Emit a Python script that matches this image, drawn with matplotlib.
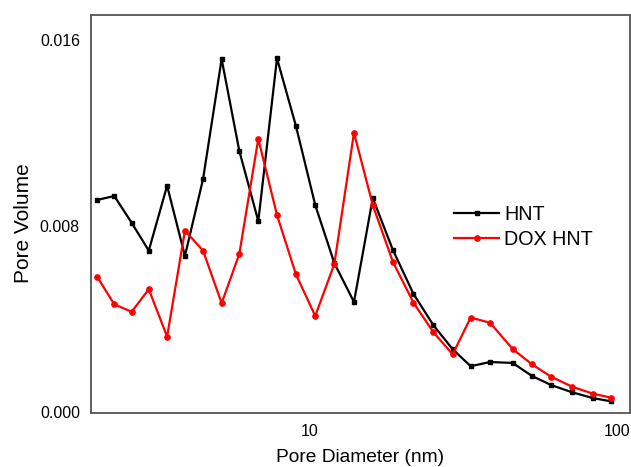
import matplotlib
matplotlib.use("Agg")
import matplotlib.pyplot as plt
from matplotlib.ticker import FixedLocator, NullLocator

plt.rcParams['font.family'] = ['Liberation Sans', 'DejaVu Sans']

diameter = [2.03, 2.31, 2.63, 2.99, 3.43, 3.92, 4.49, 5.16, 5.89, 6.79, 7.81, 9.0,
            10.4, 12.0, 13.9, 16.0, 18.6, 21.7, 25.2, 29.1, 33.3, 38.5, 45.6, 52.7,
            60.8, 71.1, 83.1, 95.0]
hnt = [0.00912, 0.00929, 0.00814, 0.00694, 0.00973, 0.00671, 0.01002, 0.01518,
       0.01123, 0.00821, 0.01521, 0.01230, 0.00890, 0.00640, 0.00473, 0.00920,
       0.00697, 0.00508, 0.00373, 0.00270, 0.00197, 0.00215, 0.00211, 0.00155,
       0.00116, 0.00085, 0.00060, 0.00046]
dox_hnt = [0.00582, 0.00463, 0.00431, 0.00528, 0.00324, 0.00780, 0.00694, 0.00468,
           0.00680, 0.01175, 0.00847, 0.00592, 0.00413, 0.00637, 0.01201, 0.00890,
           0.00646, 0.00470, 0.00343, 0.00248, 0.00406, 0.00384, 0.00271, 0.00205,
           0.00152, 0.00109, 0.00079, 0.00062]
series_names = ["HNT", "DOX HNT"]
xticks = [10, 100]
xtick_labels = ["10", "100"]
yticks = [0.000, 0.008, 0.016]
ytick_labels = ["0.000", "0.008", "0.016"]

W, H = 631, 467
fig = plt.figure(figsize=(W / 100, H / 100), dpi=100)
ax = fig.add_axes([91 / W, 1 - 413 / H, (630 - 91) / W, (413 - 15) / H])

ax.plot(diameter, hnt, color='black', lw=1.6, marker='s', ms=3.5, label=series_names[0])
ax.plot(diameter, dox_hnt, color='#ff0000', lw=1.6, marker='o', ms=3.8, label=series_names[1])

ax.set_xscale('log')
ax.set_xlim(1.94, 109.8)
ax.set_ylim(-0.000043, 0.017075)

ax.xaxis.set_major_locator(FixedLocator(xticks))
ax.xaxis.set_minor_locator(NullLocator())
ax.set_xticklabels(xtick_labels)
ax.set_yticks(yticks)
ax.set_yticklabels(ytick_labels)
ax.tick_params(axis='both', length=0, labelsize=11.5, colors='black')
ax.tick_params(axis='x', pad=8)
ax.tick_params(axis='y', pad=8)

for s in ax.spines.values():
    s.set_color('#555555')
    s.set_linewidth(1.3)

ax.set_xlabel("Pore Diameter (nm)", fontsize=13.8, labelpad=7)
ax.set_ylabel("Pore Volume", fontsize=15)
ax.yaxis.set_label_coords((33 - 91) / 539, (413 - 223) / 398)

ax.legend(loc='upper left', bbox_to_anchor=((454 - 91) / (630 - 91), 1 - (205 - 15) / (413 - 15)),
          frameon=False, fontsize=14.2, handlelength=2.3, handletextpad=0.25,
          labelspacing=0.3, borderaxespad=0, borderpad=0)

fig.savefig("out.png", dpi=100)
